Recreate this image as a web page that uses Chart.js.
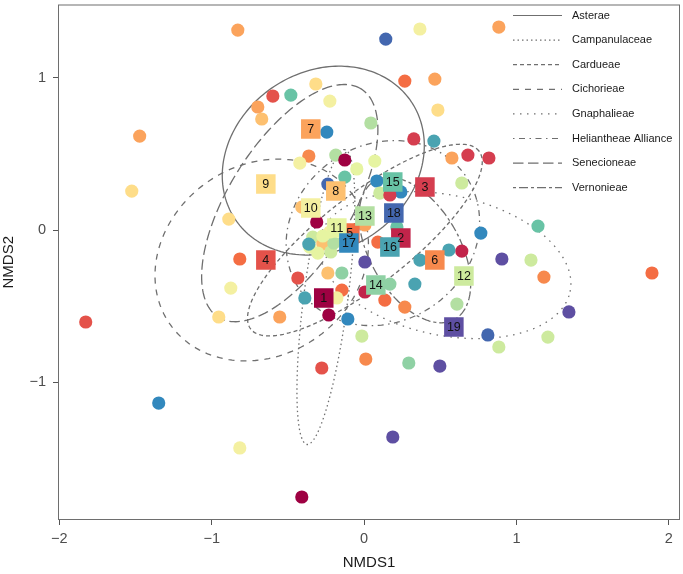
<!DOCTYPE html>
<html>
<head>
<meta charset="utf-8">
<script src="https://cdn.jsdelivr.net/npm/chart.js@4.4.1/dist/chart.umd.min.js"></script>
<style>
  html, body { margin: 0; padding: 0; background: #fff; }
  #wrap { width: 683px; height: 574px; position: relative; }
</style>
</head>
<body>
<div id="wrap"><canvas id="chartCanvas"></canvas></div>
<script>
// axis ticks
const xTicks = [-2, -1, 0, 1, 2];
const yTicks = [-1, 0, 1];

// group colours (Spectral, groups 1..19)
const groupColors = [
  "#9E0142", "#C1244A", "#D53E4F", "#E4524A", "#F46D43", "#F7894D", "#FBA35C",
  "#FDC070", "#FEDD89", "#F4F0A1", "#E6F4A1", "#CDEA9E", "#B3DFA2", "#8FD1A4",
  "#68C3A5", "#4AA3B1", "#3288BD", "#4367AF", "#5E4FA2"
];

// sample scores (NMDS1, NMDS2) and group
const ptX = [-0.829, 0.142, 0.366, 0.884, -1.473, -1.525, 0.267, 0.464, 0.484, 0.458,
  0.576, 0.681, 0.819, 0.641, 0.326, -0.481, -0.599, -0.698, -0.672, -0.317,
  -0.225, 0.044, -0.245, -0.363, -0.422, -0.186, -0.127, -0.048, 0.070, -0.127,
  0.083, 0.103, 0.241, 0.169, -0.238, -0.409, -0.311, -0.888, -0.816, -0.875,
  -0.954, -0.554, -0.435, -0.389, -0.232, -0.107, -0.146, -0.238, -0.146, 0.005,
  0.005, 0.136, 0.267, 0.169, 0.333, 0.366, -0.015, 0.011, -0.278, 0.293,
  0.497, 0.090, 0.215, 0.005, 0.766, 1.141, 0.904, 1.095, 1.180, 1.889,
  1.344, 0.812, 0.884, 1.206, 0.609, 0.641, 0.556, -1.827, -1.348, -0.816,
  -0.409, 0.188, -0.337, -0.271, -0.357, -0.304, -0.219, -0.199, -0.363, -0.225,
  -0.127, -0.271, -0.179];
const ptY = [1.313, 1.254, 1.320, 1.333, 0.617, 0.256, 0.978, 0.991, 0.788, 0.584,
  0.473, 0.492, 0.473, 0.309, 0.598, 0.886, 0.880, 0.808, 0.729, 0.959,
  0.847, 0.703, 0.643, 0.486, 0.440, 0.492, 0.460, 0.401, 0.453, 0.348,
  0.322, 0.243, 0.250, 0.230, 0.302, 0.151, 0.053, 0.072, -0.190, -0.381,
  -0.571, -0.571, -0.315, -0.446, -0.558, -0.584, -0.394, -0.282, -0.282, -0.210,
  -0.407, -0.460, -0.506, -0.355, -0.355, -0.197, -0.696, -0.847, -0.906, -0.873,
  -0.893, -0.079, 0.020, 0.033, -0.020, 0.026, -0.190, -0.197, -0.309, -0.282,
  -0.538, -0.689, -0.768, -0.703, -0.486, -0.138, -0.131, -0.604, -1.136, -1.431,
  -1.753, -1.359, -0.046, -0.092, -0.112, -0.151, -0.144, -0.085, -0.092, -0.013,
  -0.013, -0.039, -0.446];
const ptGroup = [7, 18, 10, 7, 7, 9, 5, 7, 9, 16,
  7, 3, 3, 12, 3, 15, 4, 7, 8, 9,
  10, 13, 17, 6, 10, 13, 1, 11, 11, 15,
  17, 12, 17, 3, 18, 8, 1, 9, 5, 10,
  9, 7, 4, 16, 1, 17, 5, 8, 14, 19,
  2, 5, 6, 14, 16, 16, 12, 6, 4, 14,
  19, 5, 15, 7, 17, 15, 19, 12, 6, 5,
  19, 18, 12, 12, 13, 2, 16, 4, 17, 10,
  1, 19, 12, 8, 11, 11, 12, 13, 16, 10,
  11, 11, 10];

// group centroids
const cenLabels = ["1", "2", "3", "4", "5", "6", "7", "8", "9", "10",
  "11", "12", "13", "14", "15", "16", "17", "18", "19"];
const cenX = [-0.265, 0.241, 0.399, -0.645, -0.094, 0.464, -0.350, -0.186, -0.645, -0.350,
  -0.179, 0.655, 0.005, 0.077, 0.188, 0.169, -0.100, 0.195, 0.589];
const cenY = [-0.446, -0.053, 0.282, -0.197, -0.020, -0.197, 0.663, 0.256, 0.302, 0.144,
  0.013, -0.302, 0.092, -0.361, 0.315, -0.112, -0.085, 0.112, -0.637];

// tribe ellipses: centre, semi-axes, rotation (deg)
const tribes = ["Asterae", "Campanulaceae", "Cardueae", "Cichorieae", "Gnaphalieae",
  "Heliantheae Alliance", "Senecioneae", "Vernonieae"];
const ellCX = [-0.268, -0.251, 0.005, -0.672, 0.530, 0.123, -0.488, 0.333];
const ellCY = [0.456, -0.440, -0.066, -0.197, -0.230, -0.020, 0.177, -0.131];
const ellA = [0.695, 0.976, 0.950, 0.735, 0.840, 0.660, 0.884, 0.525];
const ellB = [0.584, 0.145, 0.295, 0.624, 0.460, 0.580, 0.400, 0.295];
const ellAngle = [33.6, 82.7, 38, 35, -12, 35, 58, -60];

// line types per tribe
const tribeDash = [[], [1.5, 3], [4, 3], [6, 6], [1.5, 5.5], [1.5, 4.5, 6, 4.5], [10.5, 4.5], [3, 3, 9, 3]];

const fontFam = "'Liberation Sans', Arial, Helvetica, sans-serif";
const lineGrey = "#6f6f6f";

const fmt = v => String(v).replace("-", "\u2212");

const overlayPlugin = {
  id: "overlay",
  beforeDatasetsDraw(chart) {
    const { ctx, chartArea, scales: { x, y } } = chart;
    ctx.save();
    ctx.beginPath();
    ctx.rect(chartArea.left, chartArea.top, chartArea.right - chartArea.left, chartArea.bottom - chartArea.top);
    ctx.clip();
    ctx.strokeStyle = lineGrey;
    ctx.lineWidth = 1.3;
    tribes.forEach((name, k) => {
      const th = ellAngle[k] * Math.PI / 180;
      ctx.setLineDash(tribeDash[k]);
      ctx.beginPath();
      for (let s = 0; s <= 200; s++) {
        const t = s / 200 * 2 * Math.PI;
        const ex = ellCX[k] + ellA[k] * Math.cos(t) * Math.cos(th) - ellB[k] * Math.sin(t) * Math.sin(th);
        const ey = ellCY[k] + ellA[k] * Math.cos(t) * Math.sin(th) + ellB[k] * Math.sin(t) * Math.cos(th);
        const px = x.getPixelForValue(ex), py = y.getPixelForValue(ey);
        s ? ctx.lineTo(px, py) : ctx.moveTo(px, py);
      }
      ctx.closePath();
      ctx.stroke();
    });
    ctx.restore();
  },
  afterDatasetsDraw(chart) {
    const ctx = chart.ctx;
    const meta = chart.getDatasetMeta(0);
    ctx.save();
    ctx.fillStyle = "#111";
    ctx.font = "12.5px " + fontFam;
    ctx.textAlign = "center";
    ctx.textBaseline = "middle";
    meta.data.forEach((pt, i) => {
      ctx.fillText(cenLabels[i], pt.x, pt.y + 0.5);
    });
    ctx.restore();
  },
  afterDraw(chart) {
    const { ctx, chartArea } = chart;
    ctx.save();
    // panel frame
    ctx.strokeStyle = "#6e6e6e";
    ctx.lineWidth = 1;
    ctx.strokeRect(chartArea.left + 0.5, chartArea.top + 0.5,
      chartArea.right - chartArea.left - 1, chartArea.bottom - chartArea.top - 1);
    // legend
    ctx.font = "11px " + fontFam;
    ctx.textBaseline = "middle";
    ctx.fillStyle = "#1a1a1a";
    tribes.forEach((name, k) => {
      const ly = 15.5 + k * 24.6;
      ctx.strokeStyle = lineGrey;
      ctx.lineWidth = 1.2;
      ctx.setLineDash(tribeDash[k]);
      ctx.beginPath();
      ctx.moveTo(513, ly);
      ctx.lineTo(562, ly);
      ctx.stroke();
      ctx.fillText(name, 572, ly);
    });
    ctx.restore();
  }
};

const chartCanvas = document.getElementById("chartCanvas");
const chart = new Chart(chartCanvas, {
  type: "scatter",
  data: {
    datasets: [
      {
        label: "centroids",
        data: cenX.map((v, i) => ({ x: v, y: cenY[i] })),
        pointStyle: "rect",
        pointRadius: 13.8,
        backgroundColor: groupColors,
        borderWidth: 0
      },
      {
        label: "samples",
        data: ptX.map((v, i) => ({ x: v, y: ptY[i] })),
        pointStyle: "circle",
        pointRadius: 6.6,
        backgroundColor: ptGroup.map(g => groupColors[g - 1]),
        borderWidth: 0
      }
    ]
  },
  options: {
    responsive: true,
    maintainAspectRatio: false,
    animation: false,
    events: [],
    layout: { autoPadding: false, padding: { top: 4.5, right: 3, left: 0, bottom: 0 } },
    plugins: { legend: { display: false }, tooltip: { enabled: false } },
    scales: {
      x: {
        type: "linear",
        min: -2.009,
        max: 2.073,
        afterBuildTicks: s => { s.ticks = xTicks.map(v => ({ value: v })); },
        afterFit: s => { s.height = 54; s.paddingLeft = 0; s.paddingRight = 0; },
        border: { display: false },
        grid: { drawOnChartArea: false, drawTicks: true, tickLength: 5, tickColor: "#555", color: "#555" },
        ticks: { padding: 5, color: "#4d4d4d", font: { size: 14.5, family: fontFam }, callback: v => fmt(v), maxRotation: 0 },
        title: { display: true, text: "NMDS1", color: "#1a1a1a", font: { size: 15, family: fontFam }, padding: { top: 0, bottom: 2 } }
      },
      y: {
        type: "linear",
        min: -1.904,
        max: 1.481,
        afterBuildTicks: s => { s.ticks = yTicks.map(v => ({ value: v })); },
        afterFit: s => { s.width = 58; s.paddingTop = 0; s.paddingBottom = 0; },
        border: { display: false },
        grid: { drawOnChartArea: false, drawTicks: true, tickLength: 5, tickColor: "#555", color: "#555" },
        ticks: { padding: 7, color: "#4d4d4d", font: { size: 14.5, family: fontFam }, callback: v => fmt(v) },
        title: { display: true, text: "NMDS2", color: "#1a1a1a", font: { size: 15, family: fontFam }, padding: { top: 0, bottom: 0 } }
      }
    }
  },
  plugins: [overlayPlugin]
});
</script>
</body>
</html>
